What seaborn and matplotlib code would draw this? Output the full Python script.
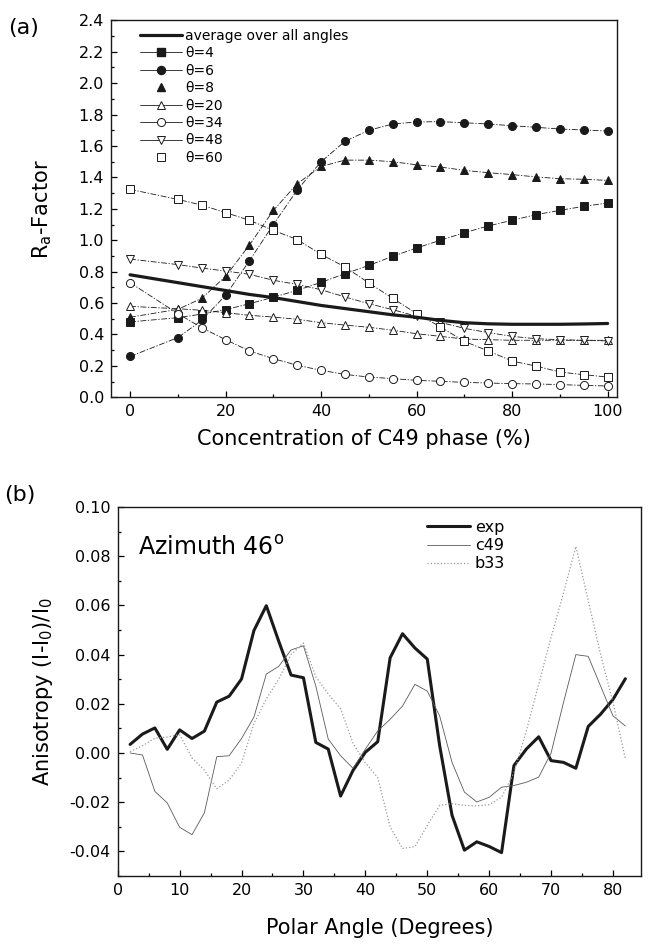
import numpy as np
import pandas as pd
import matplotlib
matplotlib.use("Agg")
import matplotlib.pyplot as plt
from matplotlib.lines import Line2D
from matplotlib.ticker import MultipleLocator, FormatStrFormatter
import seaborn as sns

# ---- panel (a): R-factor vs C49 concentration ----
conc = [0, 10, 15, 20, 25, 30, 35, 40, 45, 50, 55, 60, 65, 70, 75, 80, 85, 90, 95, 100]
avg_all = [0.78, 0.73, 0.705, 0.68, 0.655, 0.635, 0.61, 0.585, 0.565, 0.545,
           0.525, 0.51, 0.49, 0.475, 0.468, 0.465, 0.465, 0.465, 0.467, 0.47]
theta4 = [0.48, 0.507, 0.53, 0.558, 0.596, 0.637, 0.681, 0.732, 0.787, 0.84,
          0.898, 0.951, 1.0, 1.048, 1.091, 1.127, 1.163, 1.19, 1.216, 1.237]
theta6 = [0.26, 0.38, 0.49, 0.65, 0.87, 1.10, 1.32, 1.50, 1.63, 1.70,
          1.74, 1.753, 1.755, 1.748, 1.74, 1.729, 1.719, 1.708, 1.702, 1.695]
theta8 = [0.51, 0.56, 0.63, 0.77, 0.97, 1.19, 1.36, 1.47, 1.51, 1.51,
          1.50, 1.48, 1.466, 1.445, 1.43, 1.418, 1.403, 1.392, 1.388, 1.381]
theta20 = [0.579, 0.564, 0.554, 0.539, 0.522, 0.511, 0.497, 0.475, 0.46, 0.446,
           0.427, 0.405, 0.388, 0.371, 0.367, 0.363, 0.363, 0.363, 0.363, 0.363]
theta34 = [0.73, 0.533, 0.443, 0.367, 0.295, 0.246, 0.204, 0.172, 0.146, 0.129,
           0.119, 0.108, 0.102, 0.095, 0.091, 0.087, 0.085, 0.081, 0.076, 0.072]
theta48 = [0.88, 0.845, 0.823, 0.804, 0.783, 0.745, 0.719, 0.685, 0.639, 0.596,
           0.558, 0.516, 0.477, 0.439, 0.412, 0.388, 0.373, 0.367, 0.363, 0.359]
theta60 = [1.324, 1.26, 1.224, 1.176, 1.127, 1.063, 1.004, 0.91, 0.83, 0.728,
           0.63, 0.533, 0.448, 0.356, 0.295, 0.231, 0.199, 0.161, 0.144, 0.129]

# ---- panel (b): anisotropy vs polar angle, azimuth 46 deg ----
polar = list(range(2, 84, 2))
exp_b = [0.0035, 0.0077, 0.0102, 0.0015, 0.0094, 0.0059, 0.0089, 0.0207, 0.0231, 0.0301,
         0.0498, 0.0599, 0.0455, 0.0317, 0.0306, 0.0043, 0.0016, -0.0175, -0.0071, 0.0003,
         0.0046, 0.0387, 0.0485, 0.0427, 0.0382, 0.003, -0.0253, -0.0395, -0.0361, -0.038,
         -0.0405, -0.0051, 0.0016, 0.0066, -0.0031, -0.0038, -0.0062, 0.0108, 0.0158, 0.0218,
         0.0302]
c49_b = [0.0, -0.0008, -0.0156, -0.0203, -0.0302, -0.0332, -0.0243, -0.0015, -0.0011, 0.0059,
         0.0146, 0.0321, 0.0352, 0.0419, 0.0436, 0.0272, 0.0057, -0.0011, -0.0062, 0.0016,
         0.009, 0.0137, 0.0191, 0.0279, 0.0252, 0.0151, -0.0038, -0.0159, -0.0199, -0.018,
         -0.0139, -0.0132, -0.0119, -0.0098, 0.0, 0.0205, 0.040, 0.0393, 0.0272, 0.0151,
         0.011]
b33_b = [0.0005, 0.003, 0.006, 0.0065, 0.0075, -0.002, -0.007, -0.0145, -0.011, -0.004,
         0.012, 0.022, 0.030, 0.040, 0.0447, 0.031, 0.024, 0.018, 0.004, -0.004,
         -0.010, -0.030, -0.0388, -0.0381, -0.0294, -0.0213, -0.0206, -0.0213, -0.0215, -0.021,
         -0.018, -0.008, 0.009, 0.028, 0.047, 0.065, 0.084, 0.062, 0.040, 0.0206,
         -0.0024]

sns.set_theme(style="ticks")
plt.rcParams["font.family"] = ["DejaVu Sans"]
plt.rcParams["axes.unicode_minus"] = False
plt.rcParams["xtick.direction"] = "in"
plt.rcParams["ytick.direction"] = "in"
plt.rcParams["text.color"] = "black"
plt.rcParams["axes.labelcolor"] = "black"
plt.rcParams["xtick.color"] = "black"
plt.rcParams["ytick.color"] = "black"

fig = plt.figure(figsize=(6.49, 9.46), dpi=100)
ax_a = fig.add_axes([0.171, 0.580, 0.780, 0.3985])
ax_b = fig.add_axes([0.1814, 0.074, 0.807, 0.390])

dashdot = (0, (7, 2, 1.5, 2))
series = [
    (theta4, "s", "k"),
    (theta6, "o", "k"),
    (theta8, "^", "k"),
    (theta20, "^", "white"),
    (theta34, "o", "white"),
    (theta48, "v", "white"),
    (theta60, "s", "white"),
]
for vals, mk, fc in series:
    sns.lineplot(x=conc, y=vals, ax=ax_a, color="k", linewidth=0.6, linestyle=dashdot,
                 marker=mk, markersize=5.8, markerfacecolor=fc, markeredgecolor="k",
                 markeredgewidth=0.7)
sns.lineplot(x=conc, y=avg_all, ax=ax_a, color="k", linewidth=2.3)

ax_a.set_xlim(-4, 102)
ax_a.set_ylim(0, 2.4)
ax_a.xaxis.set_major_locator(MultipleLocator(20))
ax_a.xaxis.set_minor_locator(MultipleLocator(10))
ax_a.yaxis.set_major_locator(MultipleLocator(0.2))
ax_a.yaxis.set_minor_locator(MultipleLocator(0.1))
ax_a.yaxis.set_major_formatter(FormatStrFormatter("%.1f"))
ax_a.set_xlabel("Concentration of C49 phase (%)", fontsize=15)
ax_a.set_ylabel("R$_\\mathregular{a}$-Factor", fontsize=15)
ax_a.xaxis.set_label_coords(0.5, -0.085)
ax_a.yaxis.set_label_coords(-0.112, 0.5)

leg_handles = [
    Line2D([], [], color="k", lw=2.3),
    Line2D([], [], color="k", lw=0.6, marker="s", ms=5.8, mfc="k", mec="k"),
    Line2D([], [], color="k", lw=0.6, marker="o", ms=5.8, mfc="k", mec="k"),
    Line2D([], [], color="k", lw=0, marker="^", ms=5.8, mfc="k", mec="k"),
    Line2D([], [], color="k", lw=0.6, marker="^", ms=5.8, mfc="white", mec="k", mew=0.7),
    Line2D([], [], color="k", lw=0.6, marker="o", ms=5.8, mfc="white", mec="k", mew=0.7),
    Line2D([], [], color="k", lw=0.6, marker="v", ms=5.8, mfc="white", mec="k", mew=0.7),
    Line2D([], [], color="k", lw=0, marker="s", ms=5.8, mfc="white", mec="k", mew=0.7),
]
leg_labels = ["average over all angles", "θ=4", "θ=6", "θ=8", "θ=20", "θ=34", "θ=48", "θ=60"]
ax_a.legend(leg_handles, leg_labels, loc="upper left", bbox_to_anchor=(0.057, 0.978),
            frameon=False, fontsize=10, handlelength=3.0, handletextpad=0.25,
            labelspacing=0.25, borderpad=0, borderaxespad=0)

sns.lineplot(x=polar, y=exp_b, ax=ax_b, color="k", linewidth=2.2, label="exp")
sns.lineplot(x=polar, y=c49_b, ax=ax_b, color="#5a5a5a", linewidth=0.6, label="c49")
sns.lineplot(x=polar, y=b33_b, ax=ax_b, color="#9a9a9a", linewidth=0.9, linestyle=":",
             label="b33")
ax_b.set_xlim(0, 84.6)
ax_b.set_ylim(-0.05, 0.10)
ax_b.xaxis.set_major_locator(MultipleLocator(10))
ax_b.xaxis.set_minor_locator(MultipleLocator(5))
ax_b.yaxis.set_major_locator(MultipleLocator(0.02))
ax_b.yaxis.set_minor_locator(MultipleLocator(0.01))
ax_b.yaxis.set_major_formatter(FormatStrFormatter("%.2f"))
ax_b.set_xlabel("Polar Angle (Degrees)", fontsize=15)
ax_b.set_ylabel("Anisotropy (I-I$_\\mathregular{0}$)/I$_\\mathregular{0}$", fontsize=15)
ax_b.xaxis.set_label_coords(0.5, -0.115)
ax_b.yaxis.set_label_coords(-0.12, 0.5)
ax_b.legend(loc="upper left", bbox_to_anchor=(0.59, 0.965), frameon=False, fontsize=11.5,
            handlelength=2.7, handletextpad=0.3, labelspacing=0.2, borderpad=0,
            borderaxespad=0)
ax_b.text(0.039, 0.87, "Azimuth 46$^\\mathregular{o}$", transform=ax_b.transAxes,
          fontsize=17, va="baseline", ha="left")

for ax in (ax_a, ax_b):
    ax.tick_params(which="major", length=4.5, width=0.9, labelsize=11.5, pad=5)
    ax.tick_params(which="minor", length=2.5, width=0.9)
    for sp in ax.spines.values():
        sp.set_linewidth(1.0)
        sp.set_color("k")

fig.text(0.012, 0.981, "(a)", fontsize=16, va="top", ha="left")
fig.text(0.006, 0.487, "(b)", fontsize=16, va="top", ha="left")

fig.savefig("out.png", dpi=100)
